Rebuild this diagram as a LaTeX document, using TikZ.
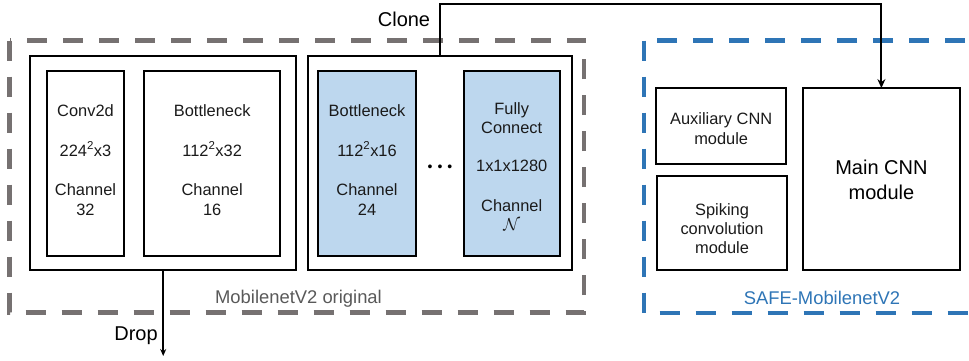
\documentclass[tikz,border=0pt]{standalone}
\usepackage{fontspec}
\setmainfont{Liberation Sans}
\usetikzlibrary{arrows.meta}
\definecolor{dgray}{HTML}{767171}
\definecolor{dblue}{HTML}{2E75B6}
\definecolor{lblue}{HTML}{BDD7EE}
\definecolor{gtxt}{HTML}{595959}
\definecolor{btxt}{HTML}{1A1A1A}
\begin{document}
\begin{tikzpicture}[x=1pt,y=-1pt,
  box/.style={draw=black, line width=2pt, inner sep=0pt, outer sep=0pt},
  bluebox/.style={box, fill=lblue},
  grp/.style={line width=4.3pt, dash pattern=on 20pt off 16pt},
  txt/.style={anchor=base, inner sep=0pt, text=btxt, font=\fontsize{16.4}{19}\selectfont},
  bigtxt/.style={anchor=base, inner sep=0pt, text=black, font=\fontsize{20}{24}\selectfont},
  lbl/.style={anchor=base, inner sep=0pt, font=\fontsize{18.4}{22}\selectfont},
  conn/.style={line width=2pt}
]
\useasboundingbox (0,0) rectangle (969,360);
\clip (0,0) rectangle (969,360);

% group frames
\draw[grp, draw=dgray] (9.5,40.5) rectangle (584,312.5);
\draw[grp, draw=dblue] (644,40.5) rectangle (1000,313);

% MobilenetV2 original
\node[box, minimum width=265.7, minimum height=214] (L) at (163.2,163.3) {};
\node[box, minimum width=77.5, minimum height=184.4] (conv) at (85.5,163.5) {};
\node[box, minimum width=135.7, minimum height=184.4] (bn1) at (212.2,163.5) {};
\node[box, minimum width=263.4, minimum height=214] (R) at (440,163.3) {};
\node[bluebox, minimum width=97.4, minimum height=184.4] (bn2) at (367,163.5) {};
\node[bluebox, minimum width=96, minimum height=184.4] (fc) at (511.7,163.5) {};

\node[txt] (t1a) at (85.5,116) {Conv2d};
\node[txt] (t1b) at (85.5,156) {224\textsuperscript{2}x3};
\node[txt] (t1c) at (85.5,195) {Channel};
\node[txt] (t1d) at (85.5,215) {32};

\node[txt] (t2a) at (212.2,116) {Bottleneck};
\node[txt] (t2b) at (212.2,156) {112\textsuperscript{2}x32};
\node[txt] (t2c) at (212.2,195) {Channel};
\node[txt] (t2d) at (212.2,215) {16};

\node[txt] (t3a) at (367,116) {Bottleneck};
\node[txt] (t3b) at (367,156) {112\textsuperscript{2}x16};
\node[txt] (t3c) at (367,195) {Channel};
\node[txt] (t3d) at (367,215) {24};

\node[txt] (t4a) at (511.7,114) {Fully};
\node[txt] (t4b) at (511.7,133) {Connect};
\node[txt] (t4c) at (511.7,171) {1x1x1280};
\node[txt] (t4d) at (511.7,211) {Channel};
\node[txt] (t4e) at (511.7,230) {$\mathcal{N}$};

\node[inner sep=0pt, text=black, font=\fontsize{14}{16}\selectfont] (dots) at (440,168) {\textbullet\kern5pt\textbullet\kern5pt\textbullet};

\node[lbl, text=gtxt] (morig) at (298.5,303.5) {MobilenetV2 original};

% SAFE-MobilenetV2
\node[box, minimum width=129.7, minimum height=76] (aux) at (721.2,126) {};
\node[box, minimum width=129.4, minimum height=94] (spk) at (722,223.3) {};
\node[box, minimum width=157.3, minimum height=182.3] (main) at (881.4,179.2) {};

\node[txt] (a1) at (721.2,124) {Auxiliary CNN};
\node[txt] (a2) at (721.2,144) {module};
\node[txt] (s1) at (722,215) {Spiking};
\node[txt] (s2) at (722,234) {convolution};
\node[txt] (s3) at (722,253) {module};
\node[bigtxt] (m1) at (881.4,174) {Main CNN};
\node[bigtxt] (m2) at (881.4,199) {module};

\node[lbl, text=dblue] (safe) at (822,304.5) {SAFE-MobilenetV2};

% connectors
\coordinate (dropend) at (163.2,356);
\draw[conn, -{Stealth[length=7pt,width=6pt]}] (L.south) -- (dropend);
\node[bigtxt] (drop) at (136,340) {Drop};

\coordinate (ctop) at (440,3.7);
\draw[conn, -{Stealth[length=9pt,width=8pt,inset=3pt]}] (R.north) -- (ctop) -| (main.north);
\node[bigtxt] (clone) at (404,26) {Clone};
\end{tikzpicture}
\end{document}
